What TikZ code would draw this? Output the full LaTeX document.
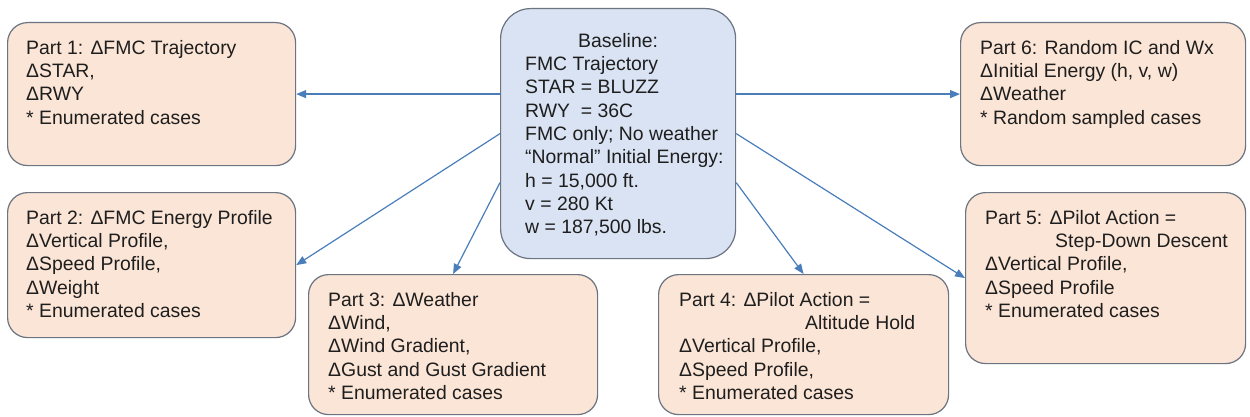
\documentclass[tikz,border=0pt]{standalone}
\usepackage{fontspec}
\setmainfont{Liberation Sans}
\usetikzlibrary{arrows.meta}
\definecolor{peach}{HTML}{FBE5D6}
\definecolor{paleblue}{HTML}{DAE3F3}
\definecolor{boxline}{RGB}{108,116,130}
\definecolor{arrowblue}{HTML}{4A7EBB}
\definecolor{txt}{HTML}{1E1E1E}
\newcommand\firststrut{\rule{0pt}{15pt}}
\begin{document}
\begin{tikzpicture}[x=1pt,y=-1pt,
  partbox/.style={draw=boxline, line width=1.2pt, fill=peach, rounded corners=20pt, anchor=north west, inner sep=0pt},
  basebox/.style={draw=boxline, line width=1.2pt, fill=paleblue, rounded corners=30pt, anchor=north west, inner sep=0pt},
  boxtext/.style={anchor=north west, inner sep=0pt, align=left, text=txt, font=\fontsize{19.4}{23.3}\selectfont},
  conn/.style={draw=arrowblue, line width=1.2pt, -{Triangle[length=10pt,width=8pt]}}]
\useasboundingbox[fill=white] (0,0) rectangle (1250,417);

% boxes
\node[basebox, minimum width=235pt, minimum height=250pt] (bl) at (500,8) {};
\node[partbox, minimum width=288pt, minimum height=143pt] (p1) at (7,22) {};
\node[partbox, minimum width=288pt, minimum height=145pt] (p2) at (7,192) {};
\node[partbox, minimum width=289pt, minimum height=140pt] (p3) at (308,274) {};
\node[partbox, minimum width=290pt, minimum height=140pt] (p4) at (658,274) {};
\node[partbox, minimum width=280pt, minimum height=171pt] (p5) at (965,192) {};
\node[partbox, minimum width=285pt, minimum height=143pt] (p6) at (960,22) {};

% texts
\node[boxtext, anchor=north] (blt) at ([yshift=-24pt]bl.north) {\firststrut Baseline:};
\node[boxtext] (blb) at ([xshift=25pt,yshift=-47.3pt]bl.north west) {\firststrut FMC Trajectory\\
STAR = BLUZZ\\
RWY\ \ = 36C\\
FMC only; No weather\\
“Normal” Initial Energy:\\
h = 15,000 ft.\\
v = 280 Kt\\
w = 187,500 lbs.};

\node[boxtext] (p1t) at ([xshift=19pt,yshift=-17pt]p1.north west) {\firststrut Part 1: ΔFMC Trajectory\\
ΔSTAR,\\
ΔRWY\\
* Enumerated cases};

\node[boxtext] (p2t) at ([xshift=19pt,yshift=-17pt]p2.north west) {\firststrut Part 2: ΔFMC Energy Profile\\
ΔVertical Profile,\\
ΔSpeed Profile,\\
ΔWeight\\
* Enumerated cases};

\node[boxtext] (p3t) at ([xshift=20pt,yshift=-17pt]p3.north west) {\firststrut Part 3: ΔWeather\\
ΔWind,\\
ΔWind Gradient,\\
ΔGust and Gust Gradient\\
* Enumerated cases};

\node[boxtext] (p4t) at ([xshift=21pt,yshift=-17pt]p4.north west) {\firststrut Part 4: ΔPilot Action =\\
\hspace*{126pt}Altitude Hold\\
ΔVertical Profile,\\
ΔSpeed Profile,\\
* Enumerated cases};

\node[boxtext] (p5t) at ([xshift=20pt,yshift=-17pt]p5.north west) {\firststrut Part 5: ΔPilot Action =\\
\hspace*{70pt}Step-Down Descent\\
ΔVertical Profile,\\
ΔSpeed Profile\\
* Enumerated cases};

\node[boxtext] (p6t) at ([xshift=20pt,yshift=-17pt]p6.north west) {\firststrut Part 6: Random IC and Wx\\
ΔInitial Energy (h, v, w)\\
ΔWeather\\
* Random sampled cases};

% connectors
\draw[conn] (bl.west |- p1.east) -- (p1.east);
\draw[conn] (bl.west) -- (p2.east);
\draw[conn] ([yshift=-49pt]bl.west) -- (p3.north);
\draw[conn] ([yshift=-49pt]bl.east) -- (p4.north);
\draw[conn] (bl.east) -- (p5.west);
\draw[conn] (bl.east |- p6.west) -- (p6.west);
\end{tikzpicture}
\end{document}
